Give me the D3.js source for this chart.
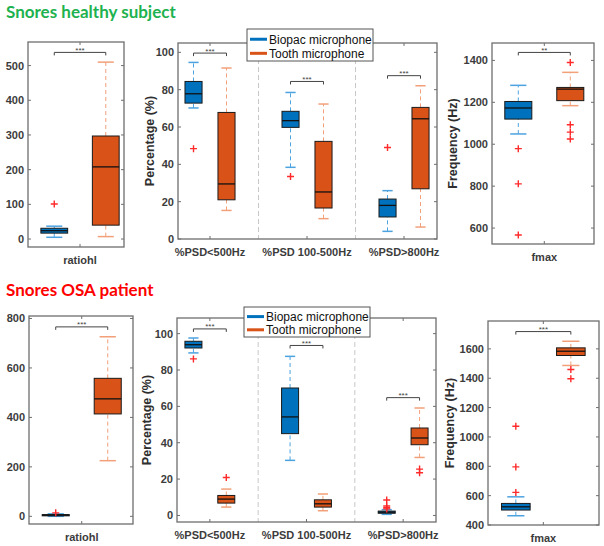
<!DOCTYPE html>
<html>
<head>
<meta charset="utf-8">
<script src="https://cdn.jsdelivr.net/npm/d3@7"></script>
<style>
  body { margin: 0; background: #fff; }
  svg { font-family: "Liberation Sans", Arial, sans-serif; }
</style>
</head>
<body>
<div id="vis"></div>
<script>
// declare constants
const WIDTH = 604;
const HEIGHT = 546;

// titles, series and groups
const TITLES = ["Snores healthy subject", "Snores OSA patient"];
const SERIES = ["Biopac microphone", "Tooth microphone"];
const PSD_GROUPS = ["%PSD<500Hz", "%PSD 100-500Hz", "%PSD>800Hz"];

// box stats: [lower whisker, q1, median, q3, upper whisker]
// healthy subject
const hRatioBiopac = [[5, 17, 24, 31, 37]];
const hRatioBiopacOut = [[101]];
const hRatioTooth = [[7, 40, 208, 297, 510]];
const hRatioToothOut = [[]];
const hRatioSig = [{ label: "***", y: 538 }];

const hPsdBiopac = [[70.2, 72.8, 77.8, 84.4, 94.6], [38.4, 59.8, 63.4, 68.4, 78.5], [4.1, 11.8, 18, 21.4, 25.9]];
const hPsdBiopacOut = [[48.4], [33.5], [49]];
const hPsdTooth = [[15.3, 21, 29.5, 67.8, 91.6], [10.9, 16.6, 25.2, 52.3, 72.3], [6.4, 26.9, 64.4, 70.5, 82.1]];
const hPsdToothOut = [[], [], []];
const hPsdSig = [{ label: "***", y: 99.6 }, { label: "***", y: 84.4 }, { label: "***", y: 87.5 }];

const hFmaxBiopac = [[1049, 1120, 1173, 1204, 1281]];
const hFmaxBiopacOut = [[979, 811, 567]];
const hFmaxTooth = [[1184, 1208, 1263, 1271, 1343]];
const hFmaxToothOut = [[1390, 1093, 1058, 1025]];
const hFmaxSig = [{ label: "**", y: 1438 }];

// OSA patient
const oRatioBiopac = [[0, 2, 5, 7, 10]];
const oRatioBiopacOut = [[14]];
const oRatioTooth = [[225, 414, 475, 558, 726]];
const oRatioToothOut = [[]];
const oRatioSig = [{ label: "***", y: 766 }];

const oPsdBiopac = [[89.4, 92.1, 93.9, 95.8, 97.6], [30.3, 45, 54.2, 70.1, 87.5], [0.6, 1.2, 1.8, 2.4, 3.2]];
const oPsdBiopacOut = [[86.1], [], [8.5, 5.2, 4.2, 3.6]];
const oPsdTooth = [[4.6, 6.8, 9, 11, 14.5], [2.6, 4.6, 6.4, 8.6, 11.8], [31.9, 38.9, 42.6, 48.1, 59.1]];
const oPsdToothOut = [[20.9], [], [25.5, 23.5]];
const oPsdSig = [{ label: "***", y: 102.6 }, { label: "***", y: 93.5 }, { label: "***", y: 64.8 }];

const oFmaxBiopac = [[463, 502, 524, 547, 592]];
const oFmaxBiopacOut = [[622, 796, 1073]];
const oFmaxTooth = [[1487, 1555, 1584, 1607, 1652]];
const oFmaxToothOut = [[1460, 1397]];
const oFmaxSig = [{ label: "***", y: 1718 }];

// tick values
const hRatioTicks = [0, 100, 200, 300, 400, 500];
const oRatioTicks = [0, 200, 400, 600, 800];
const psdTicks = [0, 20, 40, 60, 80, 100];
const hFmaxTicks = [600, 800, 1000, 1200, 1400];
const oFmaxTicks = [400, 600, 800, 1000, 1200, 1400, 1600];

const BOX_FILL = ["#0072BD", "#D95319"];
const WHISKER = ["#4da3e0", "#f2a07a"];
const AXIS_COL = "#6e6e6e";
const TEXT_COL = "#3c3c3c";

const svg = d3.select("#vis").append("svg")
  .attr("width", WIDTH).attr("height", HEIGHT);

function drawPanel(p) {
  const x = d3.scaleLinear().domain(p.xDomain).range([p.left, p.right]);
  const y = d3.scaleLinear().domain(p.yDomain).range([p.bottom, p.top]);
  const g = svg.append("g");
  const groupPos = p.groups.map((d, i) => i + 1);

  // separators
  if (p.groups.length > 1) {
    groupPos.slice(0, -1).forEach(c => {
      g.append("line")
        .attr("x1", x(c + 0.5)).attr("x2", x(c + 0.5))
        .attr("y1", p.top).attr("y2", p.bottom)
        .attr("stroke", "#c8c8c8").attr("stroke-dasharray", "5,3");
    });
  }

  // frame
  g.append("rect")
    .attr("x", p.left).attr("y", p.top)
    .attr("width", p.right - p.left).attr("height", p.bottom - p.top)
    .attr("fill", "none").attr("stroke", AXIS_COL).attr("stroke-width", 1.3);

  // y ticks, both sides
  p.yTicks.forEach(t => {
    g.append("line").attr("x1", p.left).attr("x2", p.left + 3)
      .attr("y1", y(t)).attr("y2", y(t)).attr("stroke", AXIS_COL);
    g.append("line").attr("x1", p.right).attr("x2", p.right - 3)
      .attr("y1", y(t)).attr("y2", y(t)).attr("stroke", AXIS_COL);
    g.append("text")
      .attr("x", p.left - 4).attr("y", y(t)).attr("dy", "0.36em")
      .attr("text-anchor", "end")
      .attr("font-size", 11).attr("font-weight", "bold").attr("fill", TEXT_COL)
      .text(t);
  });

  // x ticks + labels
  p.groups.forEach((lab, i) => {
    const cx = x(i + 1);
    g.append("line").attr("x1", cx).attr("x2", cx)
      .attr("y1", p.bottom).attr("y2", p.bottom - 3).attr("stroke", AXIS_COL);
    g.append("line").attr("x1", cx).attr("x2", cx)
      .attr("y1", p.top).attr("y2", p.top + 3).attr("stroke", AXIS_COL);
    g.append("text")
      .attr("x", cx).attr("y", p.bottom + 17)
      .attr("text-anchor", "middle")
      .attr("font-size", 11).attr("font-weight", "bold").attr("fill", TEXT_COL)
      .text(lab);
  });

  // y label
  if (p.ylabel) {
    const cy = (p.top + p.bottom) / 2;
    g.append("text")
      .attr("transform", `translate(${p.ylabelX},${cy}) rotate(-90)`)
      .attr("text-anchor", "middle").attr("dy", "0.35em")
      .attr("font-size", 12.5).attr("font-weight", "bold").attr("fill", "#2e2e2e")
      .text(p.ylabel);
  }

  // boxes
  const series = [
    { stats: p.biopac, out: p.biopacOut, off: -p.offset, k: 0 },
    { stats: p.tooth, out: p.toothOut, off: p.offset, k: 1 }
  ];
  series.forEach(s => {
    s.stats.forEach((st, i) => {
      const c = i + 1 + s.off;
      const x0 = x(c - p.boxHalf), x1 = x(c + p.boxHalf);
      const cx = x(c);
      const capHalf = (x1 - x0) * 0.3;
      // whiskers
      [[st[0], st[1]], [st[3], st[4]]].forEach(w => {
        g.append("line").attr("x1", cx).attr("x2", cx)
          .attr("y1", y(w[0])).attr("y2", y(w[1]))
          .attr("stroke", WHISKER[s.k]).attr("stroke-dasharray", "4,3");
      });
      [st[0], st[4]].forEach(v => {
        g.append("line").attr("x1", cx - capHalf).attr("x2", cx + capHalf)
          .attr("y1", y(v)).attr("y2", y(v))
          .attr("stroke", WHISKER[s.k]).attr("stroke-width", 1.5);
      });
      g.append("rect")
        .attr("x", x0).attr("y", y(st[3]))
        .attr("width", x1 - x0).attr("height", Math.max(y(st[1]) - y(st[3]), 1))
        .attr("fill", BOX_FILL[s.k]).attr("stroke", "#1a1a1a").attr("stroke-width", 1);
      g.append("line").attr("x1", x0).attr("x2", x1)
        .attr("y1", y(st[2])).attr("y2", y(st[2]))
        .attr("stroke", "#111").attr("stroke-width", 1.3);
      // outliers
      s.out[i].forEach(v => {
        g.append("path")
          .attr("d", `M${cx - 3.5},${y(v)}h7M${cx},${y(v) - 3.5}v7`)
          .attr("stroke", "#ff2a2a").attr("stroke-width", 1.4);
      });
    });
  });

  // significance brackets
  p.sig.forEach((s, i) => {
    const xa = x(i + 1 - p.offset), xb = x(i + 1 + p.offset);
    const yy = y(s.y);
    g.append("path")
      .attr("d", `M${xa},${yy + 3}V${yy}H${xb}V${yy + 3}`)
      .attr("fill", "none").attr("stroke", "#444").attr("stroke-width", 1);
    g.append("text")
      .attr("x", (xa + xb) / 2).attr("y", yy + 0.5)
      .attr("text-anchor", "middle")
      .attr("font-size", 8).attr("fill", "#444")
      .text(s.label);
  });

  // legend
  if (p.legend) {
    const L = p.legend;
    const lg = svg.append("g");
    lg.append("rect")
      .attr("x", L.x).attr("y", L.y).attr("width", L.w).attr("height", L.h)
      .attr("fill", "#fff").attr("stroke", "#555").attr("stroke-width", 1);
    SERIES.forEach((name, k) => {
      const ly = L.y + L.h * (k === 0 ? 0.32 : 0.76);
      lg.append("line")
        .attr("x1", L.x + 3).attr("x2", L.x + 20)
        .attr("y1", ly).attr("y2", ly)
        .attr("stroke", BOX_FILL[k]).attr("stroke-width", 3);
      lg.append("text")
        .attr("x", L.x + 22).attr("y", ly).attr("dy", "0.36em")
        .attr("font-size", 12).attr("fill", "#111")
        .text(name);
    });
  }
}

// titles
svg.append("text").attr("x", 6).attr("y", 18)
  .attr("font-family", "Lato, 'Open Sans', sans-serif")
  .attr("font-size", 17).attr("font-weight", "bold").attr("fill", "#1db24f")
  .text(TITLES[0]);
svg.append("text").attr("x", 6).attr("y", 296)
  .attr("font-family", "Lato, 'Open Sans', sans-serif")
  .attr("font-size", 17).attr("font-weight", "bold").attr("fill", "#ff0000")
  .text(TITLES[1]);

// top row
drawPanel({ left: 28, right: 124, top: 42, bottom: 247, xDomain: [0.495, 1.427], yDomain: [-23, 568],
  yTicks: hRatioTicks, groups: ["ratiohl"], biopac: hRatioBiopac, biopacOut: hRatioBiopacOut,
  tooth: hRatioTooth, toothOut: hRatioToothOut, sig: hRatioSig, offset: 0.25, boxHalf: 0.13 });
drawPanel({ left: 178, right: 437, top: 43, bottom: 239, xDomain: [0.67, 3.34], yDomain: [0, 105],
  yTicks: psdTicks, groups: PSD_GROUPS, biopac: hPsdBiopac, biopacOut: hPsdBiopacOut,
  tooth: hPsdTooth, toothOut: hPsdToothOut, sig: hPsdSig, offset: 0.17, boxHalf: 0.088,
  ylabel: "Percentage (%)", ylabelX: 150, legend: { x: 247, y: 29, w: 126, h: 32 } });
drawPanel({ left: 492, right: 594, top: 43, bottom: 244, xDomain: [0.497, 1.478], yDomain: [524, 1483],
  yTicks: hFmaxTicks, groups: ["fmax"], biopac: hFmaxBiopac, biopacOut: hFmaxBiopacOut,
  tooth: hFmaxTooth, toothOut: hFmaxToothOut, sig: hFmaxSig, offset: 0.25, boxHalf: 0.13,
  ylabel: "Frequency (Hz)", ylabelX: 453 });

// bottom row
drawPanel({ left: 29, right: 133, top: 316, bottom: 524, xDomain: [0.493, 1.493], yDomain: [-31, 810],
  yTicks: oRatioTicks, groups: ["ratiohl"], biopac: oRatioBiopac, biopacOut: oRatioBiopacOut,
  tooth: oRatioTooth, toothOut: oRatioToothOut, sig: oRatioSig, offset: 0.25, boxHalf: 0.13 });
drawPanel({ left: 177, right: 436, top: 318, bottom: 522, xDomain: [0.66, 3.34], yDomain: [-3.6, 108.6],
  yTicks: psdTicks, groups: PSD_GROUPS, biopac: oPsdBiopac, biopacOut: oPsdBiopacOut,
  tooth: oPsdTooth, toothOut: oPsdToothOut, sig: oPsdSig, offset: 0.17, boxHalf: 0.088,
  ylabel: "Percentage (%)", ylabelX: 147, legend: { x: 244, y: 307, w: 126, h: 30 } });
drawPanel({ left: 488, right: 599, top: 321, bottom: 525, xDomain: [0.497, 1.506], yDomain: [400, 1790],
  yTicks: oFmaxTicks, groups: ["fmax"], biopac: oFmaxBiopac, biopacOut: oFmaxBiopacOut,
  tooth: oFmaxTooth, toothOut: oFmaxToothOut, sig: oFmaxSig, offset: 0.25, boxHalf: 0.13,
  ylabel: "Frequency (Hz)", ylabelX: 450 });
</script>
</body>
</html>
